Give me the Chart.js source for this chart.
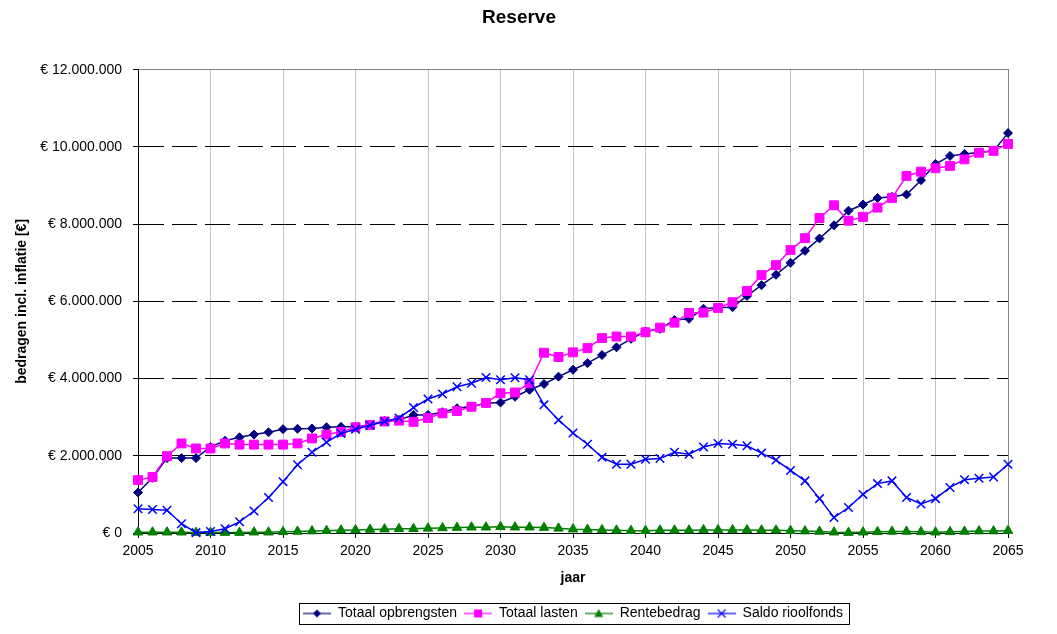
<!DOCTYPE html>
<html>
<head>
<meta charset="utf-8">
<title>Reserve</title>
<script src="https://cdn.jsdelivr.net/npm/chart.js@4/dist/chart.umd.min.js"></script>
<style>
  html, body { margin: 0; padding: 0; background: #fff; }
  #wrap { width: 1057px; height: 634px; }
</style>
</head>
<body>
<div id="wrap"><canvas id="chart" width="1057" height="634"></canvas></div>
<script>
// jaren op de x-as
const years = [
  2005, 2006, 2007, 2008, 2009, 2010, 2011, 2012, 2013, 2014, 2015, 2016, 2017, 2018, 2019, 2020,
  2021, 2022, 2023, 2024, 2025, 2026, 2027, 2028, 2029, 2030, 2031, 2032, 2033, 2034, 2035,
  2036, 2037, 2038, 2039, 2040, 2041, 2042, 2043, 2044, 2045, 2046, 2047, 2048, 2049, 2050,
  2051, 2052, 2053, 2054, 2055, 2056, 2057, 2058, 2059, 2060, 2061, 2062, 2063, 2064, 2065
];

const totaalOpbrengsten = [
  1050000, 1430000, 1940000, 1940000, 1940000, 2230000, 2390000, 2480000, 2550000, 2610000, 2690000, 2700000, 2710000, 2740000, 2750000, 2750000,
  2800000, 2910000, 2930000, 3060000, 3060000, 3130000, 3230000, 3280000, 3360000, 3380000, 3530000, 3710000, 3860000, 4050000, 4230000,
  4400000, 4610000, 4810000, 5030000, 5220000, 5290000, 5520000, 5550000, 5810000, 5840000, 5850000, 6140000, 6420000, 6690000, 7000000,
  7310000, 7630000, 7970000, 8350000, 8510000, 8680000, 8710000, 8770000, 9140000, 9560000, 9770000, 9820000, 9860000, 9900000, 10360000
];

const totaalLasten = [
  1370000, 1450000, 1990000, 2320000, 2190000, 2190000, 2320000, 2290000, 2290000, 2290000, 2290000, 2320000, 2450000, 2550000, 2620000, 2740000,
  2800000, 2890000, 2910000, 2880000, 2980000, 3100000, 3160000, 3270000, 3370000, 3620000, 3640000, 3880000, 4670000, 4560000, 4680000,
  4790000, 5050000, 5090000, 5090000, 5200000, 5320000, 5450000, 5700000, 5710000, 5830000, 5980000, 6270000, 6680000, 6940000, 7330000,
  7640000, 8160000, 8490000, 8090000, 8190000, 8430000, 8680000, 9250000, 9360000, 9450000, 9510000, 9680000, 9850000, 9900000, 10080000
];

const rentebedrag = [
  20000, 20000, 20000, 20000, 10000, 10000, 10000, 10000, 20000, 20000, 30000, 40000, 50000, 60000, 70000, 80000,
  90000, 100000, 110000, 110000, 120000, 130000, 140000, 150000, 150000, 160000, 150000, 150000, 140000, 120000, 100000,
  90000, 80000, 70000, 60000, 60000, 70000, 70000, 70000, 80000, 80000, 80000, 80000, 70000, 70000, 60000,
  50000, 40000, 20000, 10000, 20000, 30000, 40000, 40000, 30000, 20000, 30000, 40000, 50000, 50000, 60000
];

const saldoRioolfonds = [
  630000, 610000, 590000, 240000, 10000, 40000, 110000, 290000, 570000, 920000, 1330000, 1770000, 2090000, 2350000, 2580000, 2690000,
  2790000, 2890000, 2980000, 3250000, 3470000, 3600000, 3790000, 3880000, 4030000, 3970000, 4020000, 3970000, 3320000, 2930000, 2590000,
  2300000, 1960000, 1780000, 1780000, 1910000, 1930000, 2090000, 2040000, 2230000, 2320000, 2300000, 2260000, 2070000, 1890000, 1620000,
  1350000, 890000, 400000, 660000, 1000000, 1280000, 1350000, 920000, 750000, 890000, 1180000, 1380000, 1420000, 1450000, 1780000
];

// y-as stappen
const yMin = 0;
const yMax = 12000000;
const yStep = 2000000;

Chart.defaults.font.family = '"Liberation Sans", Arial, sans-serif';
Chart.defaults.color = '#000';

function points(values) {
  return years.map((yr, i) => ({ x: yr, y: values[i] }));
}

function euro(v) {
  return '€ ' + String(v).replace(/\B(?=(\d{3})+(?!\d))/g, '.');
}

// klein plaatje voor de legenda: lijn met marker
function legendIcon(color, style) {
  const c = document.createElement('canvas');
  c.width = 28;
  c.height = 12;
  const g = c.getContext('2d');
  g.strokeStyle = color;
  g.fillStyle = color;
  g.lineWidth = 1.2;
  g.beginPath();
  g.moveTo(0, 6);
  g.lineTo(28, 6);
  g.stroke();
  g.beginPath();
  if (style === 'rectRot') {
    g.moveTo(14, 2); g.lineTo(18, 6); g.lineTo(14, 10); g.lineTo(10, 6); g.closePath(); g.fill();
  } else if (style === 'rect') {
    g.rect(10, 2, 8, 8); g.fill();
  } else if (style === 'triangle') {
    g.moveTo(14, 1.5); g.lineTo(18.5, 9.5); g.lineTo(9.5, 9.5); g.closePath(); g.fill();
  } else {
    g.moveTo(10, 2); g.lineTo(18, 10); g.moveTo(18, 2); g.lineTo(10, 10); g.stroke();
  }
  return c;
}

// kader om de legenda
const legendBox = {
  id: 'legendBox',
  afterDraw(chart) {
    const boxes = chart.legend && chart.legend.legendHitBoxes;
    if (!boxes || !boxes.length) return;
    let left = Infinity, right = -Infinity, top = Infinity, bottom = -Infinity;
    boxes.forEach(b => {
      left = Math.min(left, b.left);
      right = Math.max(right, b.left + b.width);
      top = Math.min(top, b.top);
      bottom = Math.max(bottom, b.top + b.height);
    });
    const ctx = chart.ctx;
    ctx.save();
    ctx.strokeStyle = '#000';
    ctx.lineWidth = 1;
    ctx.strokeRect(Math.round(left - 4) + 0.5, Math.round(top - 3.5) + 0.5,
      Math.round(right - left + 10), Math.round(bottom - top + 7));
    ctx.restore();
  }
};

const ctx = document.getElementById('chart').getContext('2d');
const chart = new Chart(ctx, {
  type: 'line',
  data: {
    datasets: [
      {
        label: 'Totaal opbrengsten',
        data: points(totaalOpbrengsten),
        borderColor: '#000080',
        backgroundColor: '#000080',
        pointStyle: 'rectRot',
        pointRadius: 4.5,
        pointBorderWidth: 1,
        borderWidth: 1.5,
        order: 2
      },
      {
        label: 'Totaal lasten',
        data: points(totaalLasten),
        borderColor: '#FF00FF',
        backgroundColor: '#FF00FF',
        pointStyle: 'rect',
        pointRadius: 6.3,
        pointBorderWidth: 1,
        borderWidth: 1.5,
        order: 1
      },
      {
        label: 'Rentebedrag',
        data: points(rentebedrag),
        borderColor: '#008000',
        backgroundColor: '#008000',
        pointStyle: 'triangle',
        pointRadius: 5.5,
        pointBorderWidth: 1,
        borderWidth: 1.5,
        order: 3
      },
      {
        label: 'Saldo rioolfonds',
        data: points(saldoRioolfonds),
        borderColor: '#0000FF',
        backgroundColor: '#0000FF',
        pointStyle: 'crossRot',
        pointRadius: 6,
        pointBorderWidth: 1.5,
        borderWidth: 1.5,
        order: 0
      }
    ]
  },
  options: {
    responsive: false,
    animation: false,
    events: [],
    clip: false,
    datasets: { line: { tension: 0, fill: false, clip: false, xAxisID: 'x', yAxisID: 'y' } },
    layout: { padding: { top: 0, left: 30, right: 49, bottom: 3.5 } },
    scales: {
      x: {
        type: 'linear',
        min: 2005,
        max: 2065,
        afterFit(scale) { scale.height = 66.5; },
        ticks: {
          stepSize: 5,
          padding: 5,
          maxRotation: 0,
          font: { size: 14 },
          color: '#000',
          callback: v => String(v)
        },
        grid: {
          color: c => (c.tick && c.tick.value === 2065) ? '#808080' : '#c0c0c0',
          tickColor: '#000',
          tickLength: 5,
          lineWidth: 1
        },
        border: { color: '#000', width: 1 },
        title: {
          display: true,
          text: 'jaar',
          color: '#000',
          font: { size: 14, weight: 'bold' },
          padding: { top: 0, bottom: 13 }
        }
      },
      top: {
        type: 'linear',
        axis: 'x',
        position: 'top',
        min: 2005,
        max: 2065,
        afterFit(scale) { scale.height = 0; },
        ticks: { display: false },
        grid: { display: false, drawTicks: false },
        border: { color: '#808080', width: 1 }
      },
      y: {
        min: yMin,
        max: yMax,
        afterFit(scale) { scale.width = 108; },
        ticks: {
          stepSize: yStep,
          padding: 11,
          font: { size: 14 },
          color: '#000',
          callback: v => euro(v)
        },
        grid: {
          color: c => (c.tick && c.tick.value > yMin && c.tick.value < yMax) ? '#000' : 'rgba(0,0,0,0)',
          tickColor: '#000',
          tickLength: 5,
          lineWidth: 1
        },
        border: { color: '#000', width: 1, dash: [25, 8] },
        title: {
          display: true,
          text: 'bedragen incl. inflatie [€]',
          color: '#000',
          font: { size: 14, weight: 'bold' },
          padding: { top: -16.4, bottom: 0 }
        }
      }
    },
    plugins: {
      title: {
        display: true,
        text: 'Reserve',
        color: '#000',
        font: { size: 19, weight: 'bold' },
        padding: { top: 6, bottom: 41 }
      },
      legend: {
        position: 'bottom',
        fullSize: false,
        labels: {
          usePointStyle: true,
          pointStyleWidth: 28,
          padding: 7,
          color: '#000',
          font: { size: 14 },
          generateLabels(chart) {
            return chart.data.datasets.map((ds, i) => ({
              text: ds.label,
              pointStyle: legendIcon(ds.borderColor, ds.pointStyle),
              fillStyle: ds.backgroundColor,
              strokeStyle: ds.borderColor,
              lineWidth: 0,
              hidden: false,
              datasetIndex: i
            }));
          }
        }
      },
      tooltip: { enabled: false }
    }
  },
  plugins: [legendBox]
});
</script>
</body>
</html>
